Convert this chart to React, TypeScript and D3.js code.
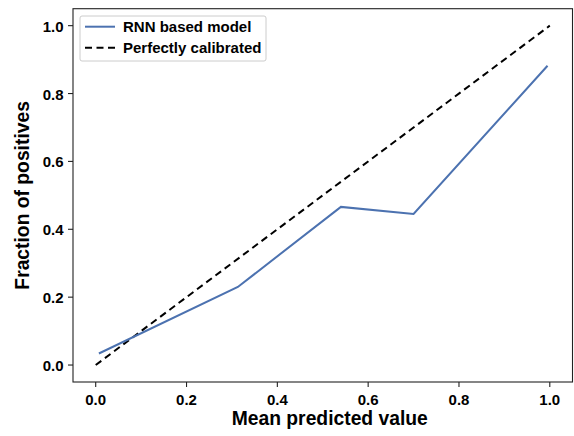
import React from "react";
import * as d3 from "d3";

const modelX = [0.007, 0.313, 0.54, 0.70, 0.995];
const modelY = [0.034, 0.23, 0.466, 0.445, 0.882];
const perfectX = [0, 1];
const perfectY = [0, 1];
const ticks = [0.0, 0.2, 0.4, 0.6, 0.8, 1.0];
const legendLabels = ["RNN based model", "Perfectly calibrated"];

const W = 574, H = 436;
const L = 73, R = 572.5, T = 8.7, B = 382;
const FONT = "'Liberation Sans', Arial, sans-serif";

export default function App() {
  const x = d3.scaleLinear().domain([-0.05, 1.05]).range([L, R]);
  const y = d3.scaleLinear().domain([-0.05, 1.05]).range([B, T]);
  const line = d3.line<[number, number]>().x(d => x(d[0])).y(d => y(d[1]));
  const model = modelX.map((v, i) => [v, modelY[i]] as [number, number]);
  const perfect = perfectX.map((v, i) => [v, perfectY[i]] as [number, number]);
  return (
    <svg width={W} height={H} style={{ position: "absolute", left: 0, top: 0 }} fontFamily={FONT}>
      <rect width={W} height={H} fill="white" />
      <path d={line(perfect)!} fill="none" stroke="#000" strokeWidth={2} strokeDasharray="7,4.5" />
      <path d={line(model)!} fill="none" stroke="#4c72b0" strokeWidth={2} />
      <rect x={L} y={T} width={R - L} height={B - T} fill="none" stroke="#222" strokeWidth={1.1} />
      {ticks.map(t => (
        <g key={"x" + t}>
          <line x1={x(t)} x2={x(t)} y1={B} y2={B + 5} stroke="#222" strokeWidth={1.1} />
          <text x={x(t)} y={B + 23} textAnchor="middle" fontSize={15} fontWeight="bold">{t.toFixed(1)}</text>
        </g>
      ))}
      {ticks.map(t => (
        <g key={"y" + t}>
          <line x1={L - 5} x2={L} y1={y(t)} y2={y(t)} stroke="#222" strokeWidth={1.1} />
          <text x={L - 9.5} y={y(t) + 6} textAnchor="end" fontSize={15} fontWeight="bold">{t.toFixed(1)}</text>
        </g>
      ))}
      <text x={(L + R) / 2 + 7} y={425} textAnchor="middle" fontSize={19.3} fontWeight="bold">Mean predicted value</text>
      <text transform={`translate(29,${(T + B) / 2}) rotate(-90)`} textAnchor="middle" fontSize={19.3} fontWeight="bold">Fraction of positives</text>
      <rect x={80} y={16} width={186} height={45} rx={2} fill="white" stroke="#ccc" strokeWidth={1} />
      <line x1={85} x2={115} y1={26.7} y2={26.7} stroke="#4c72b0" strokeWidth={2} />
      <line x1={85} x2={115} y1={47.7} y2={47.7} stroke="#000" strokeWidth={2} strokeDasharray="7,4.5" />
      {legendLabels.map((s, i) => (
        <text key={s} x={123} y={32.3 + i * 21} fontSize={15} fontWeight="bold">{s}</text>
      ))}
    </svg>
  );
}
